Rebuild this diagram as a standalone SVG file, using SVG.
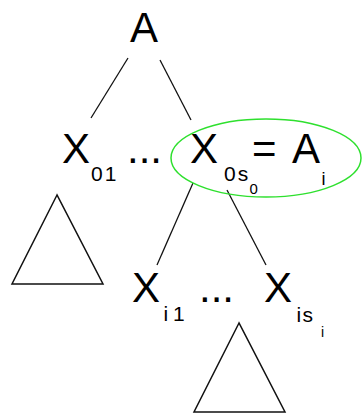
<svg xmlns="http://www.w3.org/2000/svg" width="362" height="415" viewBox="0 0 362 415">
<style>
text{font-family:"Liberation Sans",Arial,sans-serif;fill:#000}
.b{font-size:42px}
.s{font-size:21px}
.ss{font-size:15px}
.e{fill:none;stroke:#111;stroke-width:1.3}
.t{fill:none;stroke:#111;stroke-width:1.5;stroke-linejoin:miter}
</style>
<rect width="362" height="415" fill="#fff"/>
<g id="connectors">
<line class="e" x1="128" y1="58" x2="91" y2="118"/>
<line class="e" x1="160" y1="60" x2="191" y2="120"/>
<line class="e" x1="193" y1="183" x2="157" y2="265"/>
<line class="e" x1="227" y1="190" x2="266" y2="265"/>
</g>
<g id="nodeA"><text class="b" x="130" y="42">A</text></g>
<g id="nodeX01"><text class="b" x="62" y="163">X</text><text class="s" x="91" y="181">0<tspan dx="2">1</tspan></text></g>
<g id="dots1"><text class="b" x="127" y="163">...</text></g>
<g id="nodeX0s0">
<ellipse cx="266" cy="158" rx="95" ry="39" fill="none" stroke="#2ee02e" stroke-width="1.5"/>
<text class="b" x="190" y="163">X</text><text class="s" x="224" y="181">0<tspan dx="2">s</tspan></text><text class="ss" x="249.5" y="194">0</text>
<text class="b" x="252" y="163">=</text><text class="b" x="292" y="163">A</text><text style="font-size:18px" x="321.5" y="185">i</text>
</g>
<g id="tri1"><polygon class="t" points="57,195 12,284 103,284"/></g>
<g id="nodeXi1"><text class="b" x="132" y="302">X</text><text class="s" x="163.5" y="321">i</text><text class="s" x="173" y="321">1</text></g>
<g id="dots2"><text class="b" x="199" y="302">...</text></g>
<g id="nodeXisi"><text class="b" x="264" y="302">X</text><text class="s" x="296.5" y="322">i</text><text class="s" x="302.5" y="322">s</text><text style="font-size:14px" x="321" y="337">i</text></g>
<g id="tri2"><polygon class="t" points="239,323 194,412 285,412"/></g>
</svg>
